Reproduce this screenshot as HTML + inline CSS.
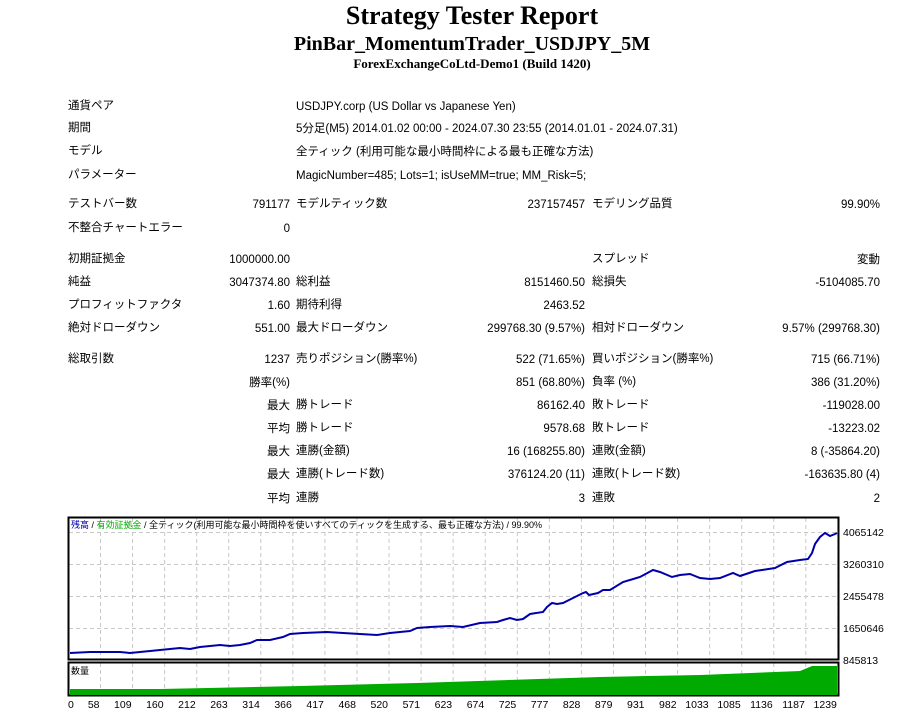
<!DOCTYPE html>
<html><head><meta charset="utf-8"><style>
body{margin:0;background:#fff;width:904px;height:717px;position:relative;overflow:hidden;font-family:"Liberation Sans","Noto Sans CJK JP",sans-serif;font-size:11.5px;color:#000}
.t{position:absolute;white-space:nowrap;line-height:14px}
.r{text-align:right}
h1,h2,h3{position:absolute;margin:0;width:904px;left:20px;text-align:center;font-family:"Liberation Serif",serif;font-weight:bold;white-space:nowrap}
</style></head><body>
<h1 style="top:1px;font-size:26px;line-height:30px">Strategy Tester Report</h1>
<h2 style="top:32px;font-size:20px;line-height:24px">PinBar_MomentumTrader_USDJPY_5M</h2>
<h3 style="top:56px;font-size:13px;line-height:16px">ForexExchangeCoLtd-Demo1 (Build 1420)</h3>
<div id="tbl"></div>
<svg style="position:absolute;left:0;top:0" width="904" height="717" xmlns="http://www.w3.org/2000/svg">
<g stroke="#c8c8c8" stroke-dasharray="4,3" stroke-width="1" id="grid"></g>
<rect x="68.5" y="517.5" width="770" height="142" fill="none" stroke="#000" stroke-width="2"/>
<rect x="68.5" y="662.5" width="770" height="33" fill="none" stroke="#000" stroke-width="2"/>
<polygon fill="#00aa00" points="70,695 70,689 160,689 300,686 417,683 600,677 700,675 800,671 812,666 837,666 837,695"/>
<polyline fill="none" stroke="#0000aa" stroke-width="2" points="70,653 90,652 120,652 130,653 150,651 170,649 180,648 190,649 200,647 220,645 230,646 240,645 250,643 257,640 270,640 283,637 290,634 303,633 327,632 343,633 377,635 390,633 410,631 417,628 430,627 450,626 463,627 480,623 497,622 503,620 510,618 517,620 523,619 530,614 543,612 547,607 552,603 557,604 563,603 573,598 583,593 586,592 589,595 598,593 603,590 610,590 623,582 640,577 653,570 660,572 672,577 680,575 690,574 700,578 710,579 720,578 733,573 740,576 755,571 762,570 775,568 787,562 800,560 808,559 812,553 815,544 820,537 825,533 830,536 835,534 837,533"/>
<text x="71" y="528" font-size="9" font-family="Liberation Sans,Noto Sans CJK JP,sans-serif"><tspan fill="#0000aa">残高</tspan> / <tspan fill="#00aa00">有効証拠金</tspan> / 全ティック(利用可能な最小時間枠を使いすべてのティックを生成する、最も正確な方法) / 99.90%</text>
<text x="71" y="674" font-size="9" font-family="Liberation Sans,Noto Sans CJK JP,sans-serif">数量</text>
<g font-size="10.5" font-family="Liberation Sans,sans-serif" id="ax">
<text x="843" y="536">4065142</text><text x="843" y="568">3260310</text><text x="843" y="600">2455478</text><text x="843" y="632">1650646</text><text x="843" y="664">845813</text>
</g>
</svg>
<script>
var rows=[
[108,"通貨ペア","", "USDJPY.corp (US Dollar vs Japanese Yen)","","",""],
[130,"期間","","5分足(M5) 2014.01.02 00:00 - 2024.07.30 23:55 (2014.01.01 - 2024.07.31)","","",""],
[153,"モデル","","全ティック (利用可能な最小時間枠による最も正確な方法)","","",""],
[177,"パラメーター","","MagicNumber=485; Lots=1; isUseMM=true; MM_Risk=5;","","",""],
[206,"テストバー数","791177","モデルティック数","237157457","モデリング品質","99.90%"],
[230,"不整合チャートエラー","0","","","",""],
[261,"初期証拠金","1000000.00","","","スプレッド","変動"],
[284,"純益","3047374.80","総利益","8151460.50","総損失","-5104085.70"],
[307,"プロフィットファクタ","1.60","期待利得","2463.52","",""],
[330,"絶対ドローダウン","551.00","最大ドローダウン","299768.30 (9.57%)","相対ドローダウン","9.57% (299768.30)"],
[361,"総取引数","1237","売りポジション(勝率%)","522 (71.65%)","買いポジション(勝率%)","715 (66.71%)"],
[384,"","勝率(%)","","851 (68.80%)","負率 (%)","386 (31.20%)"],
[407,"","最大","勝トレード","86162.40","敗トレード","-119028.00"],
[430,"","平均","勝トレード","9578.68","敗トレード","-13223.02"],
[453,"","最大","連勝(金額)","16 (168255.80)","連敗(金額)","8 (-35864.20)"],
[476,"","最大","連勝(トレード数)","376124.20 (11)","連敗(トレード数)","-163635.80 (4)"],
[500,"","平均","連勝","3","連敗","2"]];
var h="";
rows.forEach(function(r,i){var y=r[0]-8;
 if(r[1])h+='<div class="t" style="left:68px;top:'+(y-1)+'px">'+r[1]+'</div>';
 if(r[2])h+='<div class="t r" style="left:90px;width:200px;top:'+y+'px">'+r[2]+'</div>';
 if(r[3])h+='<div class="t" style="left:296px;top:'+(i<4?y:y-1)+'px">'+r[3]+'</div>';
 if(r[4])h+='<div class="t r" style="left:385px;width:200px;top:'+y+'px">'+r[4]+'</div>';
 if(r[5])h+='<div class="t" style="left:592px;top:'+(y-1)+'px">'+r[5]+'</div>';
 if(r[6])h+='<div class="t r" style="left:680px;width:200px;top:'+y+'px">'+r[6]+'</div>';
});
document.getElementById("tbl").innerHTML=h;
var g="",ns="http://www.w3.org/2000/svg";
for(var k=0;k<24;k++){var x=100.5+k*32.06;g+='<line x1="'+x+'" y1="518" x2="'+x+'" y2="659"/><line x1="'+x+'" y1="663" x2="'+x+'" y2="695"/>';}
[532,564,596,628].forEach(function(y){g+='<line x1="69" y1="'+(y+.5)+'" x2="838" y2="'+(y+.5)+'"/>';});
document.getElementById("grid").innerHTML=g;
var labs=[0,58,109,160,212,263,314,366,417,468,520,571,623,674,725,777,828,879,931,982,1033,1085,1136,1187,1239];
var a="";labs.forEach(function(l,k){var x=k==0?68:100.5+(k-1)*32.06-1;a+='<text x="'+x+'" y="708" text-anchor="'+(k==0?"start":"end")+'">'+l+'</text>';});
document.getElementById("ax").innerHTML+=a;
</script>
</body></html>
